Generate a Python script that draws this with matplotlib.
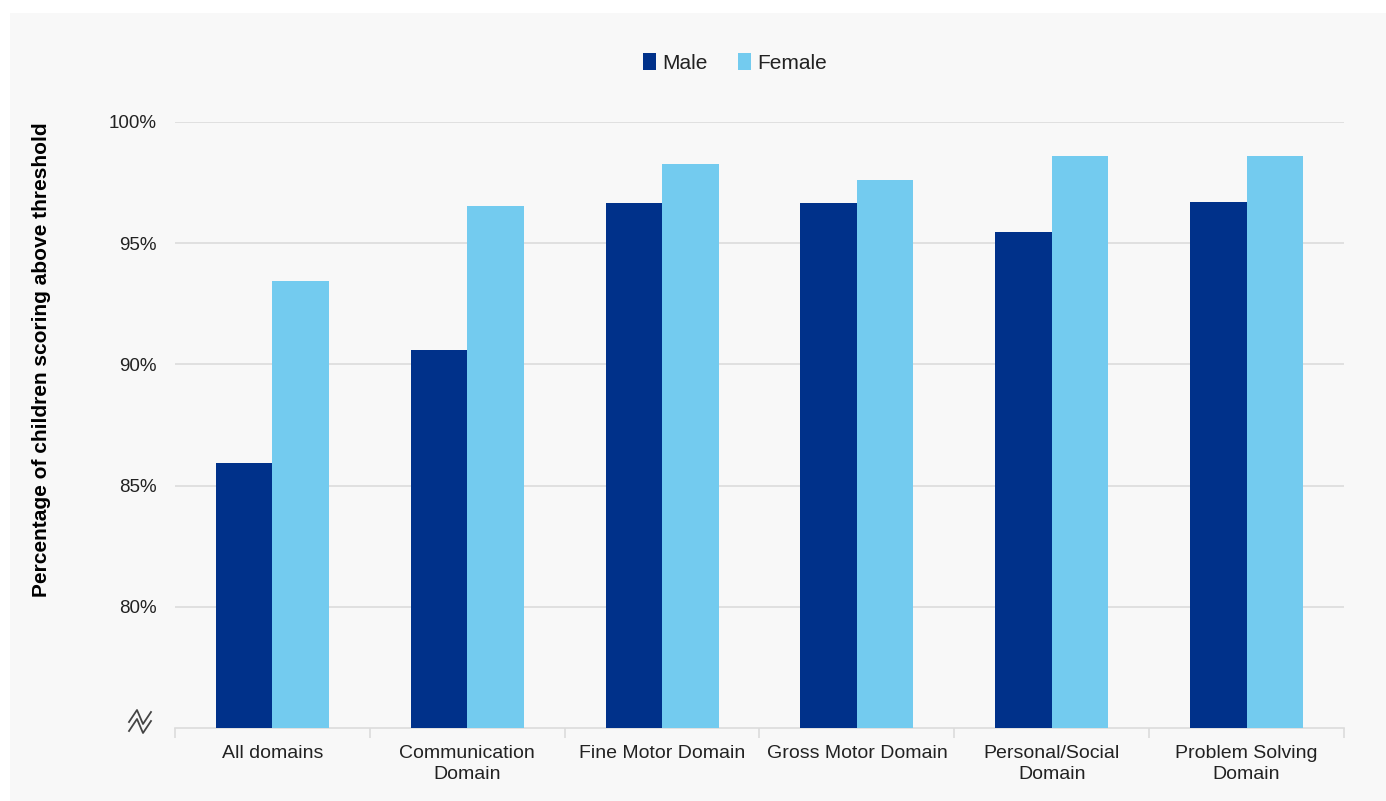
import numpy as np
import matplotlib
matplotlib.use('Agg')
import matplotlib.pyplot as plt
from matplotlib.patches import Rectangle
from matplotlib.lines import Line2D

plt.rcParams['font.family'] = ['Liberation Sans', 'DejaVu Sans']

categories = ['All domains', 'Communication\nDomain', 'Fine Motor Domain',
              'Gross Motor Domain', 'Personal/Social\nDomain', 'Problem Solving\nDomain']
male = [85.95, 90.6, 96.65, 96.65, 95.45, 96.7]
female = [93.45, 96.55, 98.25, 97.6, 98.6, 98.6]
yticks = [80, 85, 90, 95, 100]
ytick_labels = ['80%', '85%', '90%', '95%', '100%']

c_male = '#00318A'
c_female = '#73CBEF'
c_grid = '#dcdcdc'
c_text = '#222222'

W, H = 1386, 801
fig = plt.figure(figsize=(13.86, 8.01), dpi=100)
fig.patch.set_facecolor('white')
# light grey panel behind the chart
fig.patches.append(Rectangle((10 / W, 0), 1, 1 - 13 / H, transform=fig.transFigure,
                             facecolor='#f8f8f8', edgecolor='none', zorder=-10))

ax = fig.add_axes([175 / W, 1 - 728 / H, (1344 - 175) / W, (728 - 122) / H])
ax.set_facecolor('none')

x = np.arange(len(categories))
w = 0.29
ax.bar(x - w / 2, [m - 75 for m in male], w, bottom=75, color=c_male, label='Male', zorder=3)
ax.bar(x + w / 2, [f - 75 for f in female], w, bottom=75, color=c_female, label='Female', zorder=3)

ax.set_xlim(-0.5, len(categories) - 0.5)
ax.set_ylim(75, 100)
ax.set_yticks(yticks)
ax.set_yticklabels(ytick_labels, fontsize=13.5, color=c_text)
ax.yaxis.grid(True, color=c_grid, linewidth=1.2, zorder=0)
ax.tick_params(axis='y', length=0, pad=13)

ax.set_xticks(x)
ax.set_xticklabels(categories, fontsize=14, color=c_text, linespacing=1.3)
ax.set_xticks(np.arange(len(categories) + 1) - 0.5, minor=True)
ax.tick_params(axis='x', which='major', length=0, pad=12)
ax.tick_params(axis='x', which='minor', length=7, color=c_grid, width=1.2)

for s in ['top', 'right', 'left']:
    ax.spines[s].set_visible(False)
ax.spines['bottom'].set_color(c_grid)
ax.spines['bottom'].set_linewidth(1.2)

ax.set_ylabel('Percentage of children scoring above threshold', fontsize=15,
              fontweight='bold', color='black')
ax.yaxis.set_label_coords(-0.106, 0.607)

# axis break symbol (two zigzags)
for dy in (0, 9):
    px = [129, 137, 143, 151]
    py = [722 + dy, 710 + dy, 724 + dy, 712 + dy]
    fig.add_artist(Line2D([p / W for p in px], [1 - p / H for p in py],
                          transform=fig.transFigure, color='#444444', linewidth=1.3))

leg = fig.legend(loc='center', bbox_to_anchor=(735 / W, 1 - 63 / H), ncol=2,
                 frameon=False, fontsize=15, handlelength=0.6, handleheight=0.9,
                 handletextpad=0.3, columnspacing=1.5)
for t in leg.get_texts():
    t.set_color(c_text)

fig.savefig('out.png', dpi=100)
